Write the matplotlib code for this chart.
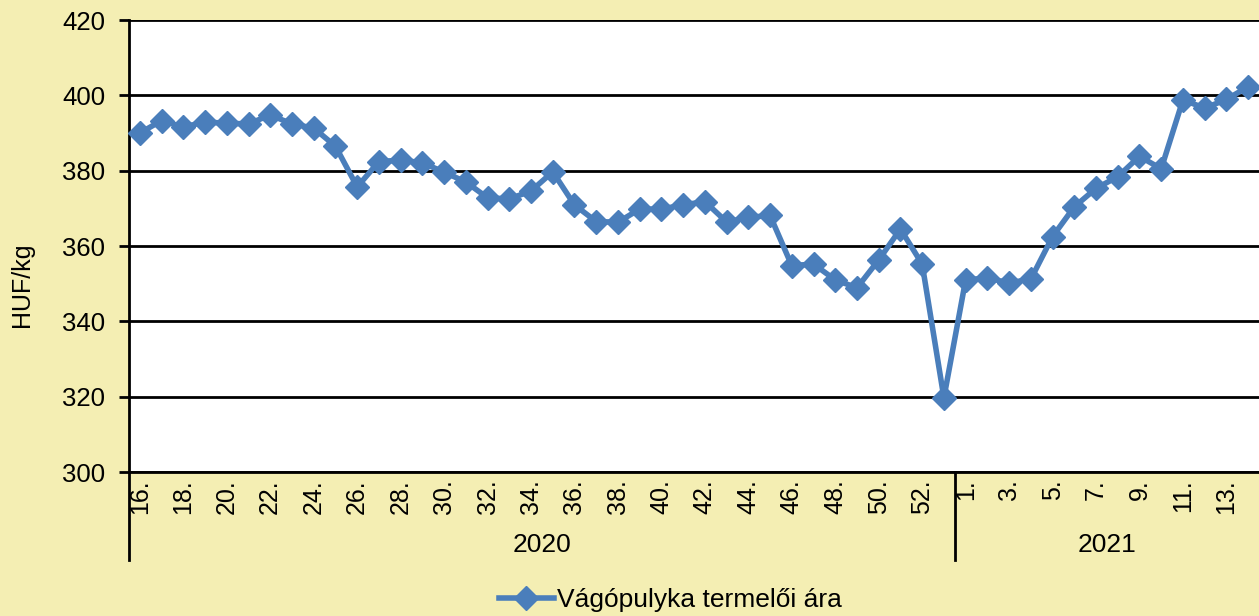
import matplotlib
matplotlib.use("Agg")
import matplotlib.pyplot as plt
from matplotlib.lines import Line2D

plt.rcParams['font.family'] = ['Liberation Sans', 'DejaVu Sans']

weeks_2020 = list(range(16, 54))
weeks_2021 = list(range(1, 15))
prices_2020 = [390.0, 393.3, 391.6, 392.9, 392.6, 392.4, 394.8, 392.4, 391.3, 386.5,
               375.7, 382.4, 382.8, 382.1, 379.6, 377.0, 372.8, 372.5, 374.6, 379.7,
               370.9, 366.5, 366.3, 369.8, 369.8, 370.9, 371.8, 366.4, 367.6, 368.1,
               354.8, 355.2, 351.0, 348.9, 356.3, 364.5, 355.2, 319.7]
prices_2021 = [351.0, 351.5, 350.2, 351.2, 362.5, 370.4, 375.3, 378.4, 383.8, 380.5,
               398.8, 396.6, 398.9, 402.3]
years = ["2020", "2021"]
series_name = "Vágópulyka termelői ára"
y_label = "HUF/kg"
y_ticks = [300, 320, 340, 360, 380, 400, 420]

bg = '#F4EEB3'
line_color = '#4A7EBB'

fig = plt.figure(figsize=(12.59, 6.16), dpi=100)
fig.patch.set_facecolor(bg)
W, H = 1259, 616
ax_left, ax_right, ax_top, ax_bottom = 129, 1259, 20, 472
ax = fig.add_axes([ax_left / W, 1 - ax_bottom / H, (ax_right - ax_left) / W, (ax_bottom - ax_top) / H])
ax.set_facecolor('white')

values = prices_2020 + prices_2021
n = len(values)
xs = list(range(n))
ax.plot(xs, values, color=line_color, lw=4.0, marker='D', markersize=12,
        markerfacecolor=line_color, markeredgecolor=line_color, zorder=3, clip_on=False)

ax.set_xlim(-0.5, n - 0.5)
ax.set_ylim(300, 420)
ax.set_yticks(y_ticks)
ax.yaxis.grid(True, color='black', lw=2.0)
ax.set_axisbelow(True)
ax.tick_params(axis='y', direction='out', length=7, width=2.0, labelsize=18.5, pad=10, colors='black')

labels_pos = []
labels_txt = []
for i, w in enumerate(weeks_2020):
    if i % 2 == 0:
        labels_pos.append(i)
        labels_txt.append(f"{w}.")
off = len(weeks_2020)
for i, w in enumerate(weeks_2021):
    if i % 2 == 0:
        labels_pos.append(off + i)
        labels_txt.append(f"{w}.")
ax.set_xticks(labels_pos)
ax.set_xticklabels(labels_txt, rotation=90, fontsize=18, va='top', ha='center')
ax.tick_params(axis='x', length=0, pad=5)

for s in ['top', 'right']:
    ax.spines[s].set_visible(False)
ax.spines['left'].set_linewidth(2.0)
ax.spines['bottom'].set_linewidth(2.0)

# group separators
trans = ax.get_xaxis_transform()
sep_y0 = 0
sep_y1 = -(560 - ax_bottom) / (ax_bottom - ax_top)
for xb in [-0.5, off - 0.5]:
    ax.add_line(Line2D([xb, xb], [sep_y0, sep_y1], transform=trans, color='black', lw=2.0, clip_on=False))
year_y = -(545 - ax_bottom) / (ax_bottom - ax_top)
ax.text((-0.5 + off - 0.5) / 2, year_y, years[0], transform=trans, ha='center', va='center', fontsize=19)
ax.text((off - 0.5 + n - 0.5) / 2, year_y, years[1], transform=trans, ha='center', va='center', fontsize=19)

fig.text(22 / W, 1 - 285 / H, y_label, rotation=90, ha='center', va='center', fontsize=18)

handle = Line2D([], [], color=line_color, lw=4.0, marker='D', markersize=12)
fig.legend([handle], [series_name], loc='center', bbox_to_anchor=(670 / W, 1 - 600 / H),
           frameon=False, fontsize=19, handlelength=2.1, handletextpad=0.1)

fig.savefig('out.png', dpi=100, facecolor=bg)
